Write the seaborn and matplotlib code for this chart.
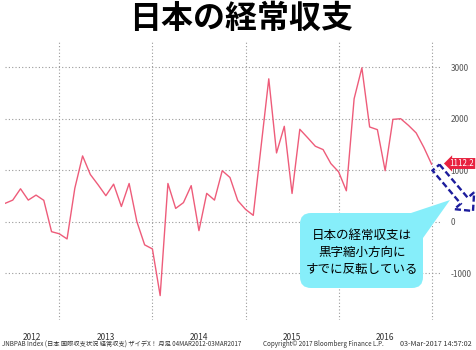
import numpy as np
import pandas as pd
import matplotlib
matplotlib.use("Agg")
import matplotlib.pyplot as plt
from matplotlib.patches import FancyBboxPatch, Polygon
from matplotlib.transforms import IdentityTransform
import seaborn as sns

# ---------------- data (monthly, Jun 2012 - Jan 2017) ----------------
months = pd.date_range("2012-06-01", "2017-01-01", freq="MS").strftime("%Y-%m").tolist()
values = [
    355, 419, 639, 419, 516, 415, -194,                                # 2012 Jun-Dec
    -235, -335, 650, 1277, 916, 716, 505, 729, 295, 742, 0, -450,       # 2013
    -529, -1435, 742, 258, 370, 700, -174, 550, 419, 990, 858, 410,     # 2014
    240, 123, 1450, 2774, 1335, 1852, 548, 1794, 1632, 1465, 1400, 1129,  # 2015
    968, 600, 2387, 2987, 1839, 1787, 990, 1987, 2000, 1871, 1723, 1439,  # 2016
    1112.2,                                                            # 2017 Jan
]
year_labels = ["2012", "2013", "2014", "2015", "2016"]
year_label_pos = [3.5, 13, 25, 37, 49]      # month index of each label
year_start_pos = [7, 19, 31, 43, 55]        # January of 2013..2017
y_ticks = [-1000, 0, 1000, 2000, 3000]
last_label = "1112.2"

title = "日本の経常収支"
callout_lines = ["日本の経常収支は", "黒字縮小方向に", "すでに反転している"]
footer_left = "JNBPAB Index (日本 国際収支状況 経常収支) ザイデX！ 月足 04MAR2012-03MAR2017"
footer_mid = "Copyright© 2017 Bloomberg Finance L.P."
footer_right = "03-Mar-2017 14:57:02"

df = pd.DataFrame({"month": months, "idx": np.arange(len(values)), "value": values})

# ---------------- style ----------------
sns.set_theme(style="white")
plt.rcParams["font.family"] = ["Noto Sans CJK JP", "DejaVu Sans"]

W, H = 477, 350
fig = plt.figure(figsize=(W / 100, H / 100), dpi=100)
fig.patch.set_facecolor("white")

ax_l, ax_r, ax_t, ax_b = 5, 440, 42, 320
ax = fig.add_axes([ax_l / W, 1 - ax_b / H, (ax_r - ax_l) / W, (ax_b - ax_t) / H])
ax.set_facecolor("white")

sns.lineplot(data=df, x="idx", y="value", ax=ax, color="#EE5C7A", lw=1.0)

ax.set_xlim(0, 56.07)
ax.set_ylim(-1909, 3489)
for s in ax.spines.values():
    s.set_visible(False)

ax.set_yticks(y_ticks)
ax.set_yticklabels([str(t) for t in y_ticks])
ax.yaxis.tick_right()
ax.tick_params(axis="y", length=0, pad=7.5, labelsize=6, labelcolor="#555555")

ax.set_xticks(year_label_pos)
ax.set_xticklabels(year_labels)
ax.set_xticks(year_start_pos, minor=True)
ax.tick_params(axis="x", which="both", length=0, pad=9, labelsize=6, labelcolor="#333333")

ax.grid(False)
ax.grid(axis="y", which="major", color="#9a9a9a", lw=0.8, ls=(0, (1, 2)))
ax.grid(axis="x", which="minor", color="#9a9a9a", lw=0.8, ls=(0, (1, 2)))
ax.set_xlabel("")
ax.set_ylabel("")

# ---------------- title ----------------
fig.text(241 / W, 1 - 19 / H, title, ha="center", va="center",
         fontsize=23, fontweight="bold", color="black")

# ---------------- helpers in pixel space (y from top) ----------------
def px(x, y):
    return (x, H - y)

ident = IdentityTransform()

# callout box + pointer
box = FancyBboxPatch(px(300, 288), 123, 75, boxstyle="round,pad=0,rounding_size=11",
                     transform=ident, facecolor="#86EEFA", edgecolor="none", zorder=5)
fig.patches.append(box)
tri = Polygon([px(408, 214), px(423, 238), px(450, 200)], closed=True,
              transform=ident, facecolor="#86EEFA", edgecolor="none", zorder=5)
fig.patches.append(tri)
for i, line in enumerate(callout_lines):
    fig.text(362 / W, 1 - (235 + 17 * i) / H, line, ha="center", va="center",
             fontsize=9, color="black", zorder=6)

# dashed block arrow
S = np.array([436.0, 167.5])
T = np.array([473.0, 211.0])
u = (T - S) / np.linalg.norm(T - S)
n = np.array([u[1], -u[0]])
B = T - 13.5 * u
w, hw = 4.6, 13.0
pts = [S + w * n, B + w * n, B + hw * n, T, B - hw * n, B - w * n, S - w * n]
arrow = Polygon([px(p[0], p[1]) for p in pts], closed=True, transform=ident,
                facecolor="none", edgecolor="#1C1C9C", lw=1.7,
                ls=(0, (2.6, 1.3)), zorder=7)
fig.patches.append(arrow)

# last-value tag
fig.text(462 / W, 1 - 163.5 / H, last_label, ha="center", va="center",
         fontsize=5.8, color="white", zorder=8,
         bbox=dict(boxstyle="larrow,pad=0.12", fc="#E8223F", ec="none"))

# footer
fig.text(2 / W, 1 - 344 / H, footer_left, ha="left", va="center", fontsize=4.5, color="#333333")
fig.text(263 / W, 1 - 344 / H, footer_mid, ha="left", va="center", fontsize=4.5, color="#333333")
fig.text(400 / W, 1 - 344 / H, footer_right, ha="left", va="center", fontsize=5.2, color="#333333")

fig.savefig("out.png", dpi=100, facecolor="white")
